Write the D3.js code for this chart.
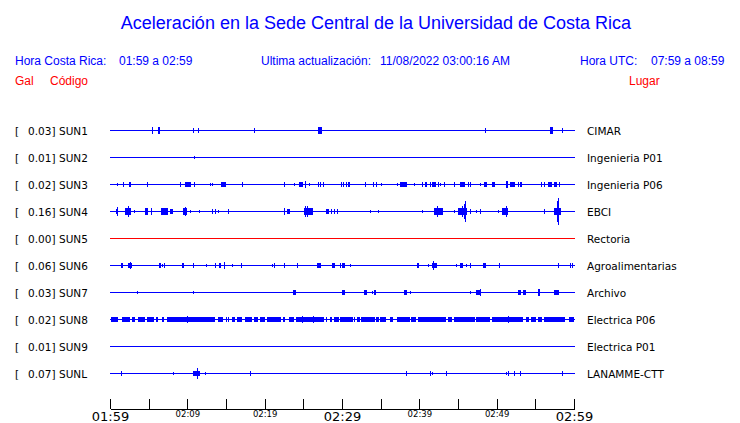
<!DOCTYPE html>
<html>
<head>
<meta charset="utf-8">
<script src="https://cdn.jsdelivr.net/npm/d3@7"></script>
<style>
  html, body { margin: 0; padding: 0; background: #fff; }
  svg { display: block; }
</style>
</head>
<body>
<svg id="chart" width="740" height="423"></svg>
<script>
// ---------------- DATA ----------------
const title = "Aceleración en la Sede Central de la Universidad de Costa Rica";
const horaCR = "01:59 a 02:59";
const actualizacion = "11/08/2022 03:00:16 AM";
const horaUTC = "07:59 a 08:59";

const codes    = ["SUN1","SUN2","SUN3","SUN4","SUN5","SUN6","SUN7","SUN8","SUN9","SUNL"];
const gals     = [0.03, 0.01, 0.02, 0.16, 0.00, 0.06, 0.03, 0.02, 0.01, 0.07];
const places   = ["CIMAR","Ingenieria P01","Ingenieria P06","EBCI","Rectoria",
                  "Agroalimentarias","Archivo","Electrica P06","Electrica P01","LANAMME-CTT"];
const traceColors = ["#0000ff","#0000ff","#0000ff","#0000ff","#ff0000",
                     "#0000ff","#0000ff","#0000ff","#0000ff","#0000ff"];

// time axis: minutes after 01:59
const tickMinutes = [0,5,10,15,20,25,30,35,40,45,50,55,60];
const labelMinutes = [0,10,20,30,40,50,60];
const tickLabels = ["01:59","02:09","02:19","02:29","02:39","02:49","02:59"];
const bigLabels = ["01:59","02:29","02:59"];

// events per trace: [minute, duration (min), amplitude]
const evCIMAR = [[5.43,0,2.5],[6.17,0.3,2.5],[10.77,0,1.5],[11.42,0,1.5],[18.66,0,1.5],
  [26.94,0.5,2.5],[48.53,0,1.5],[56.9,0.4,2.5],[58.49,0,1.5]];
const evIngP01 = [[10.9,0,1]];
const evIngP06 = [[0.87,0,1],[1.72,0,1.5],[2.42,0.26,2],[4.82,0,1.5],[9.09,0,1.5],[9.70,0.78,2],
  [10.86,0,1.5],[12.97,0,1],[13.23,0,1],[14.35,0.69,2],[17.11,0,1.5],[22.46,0,1.5],[23.75,0,0.7],
  [24.40,0.56,2],[25.26,0,2.5],[25.77,0,1],[26.86,0,1.5],[27.16,0,1.5],[27.54,0,1.5],
  [29.91,0,1.5],[30.19,0,1.5],[30.48,0,1.5],[30.82,0.26,2],[32.94,0,1.5],[34.05,0,1.5],
  [34.44,0,1.5],[35.08,0,1],[37.15,0,1],[37.54,0.87,2],[39.27,0,1],[40.31,0,1.5],
  [40.73,0.26,2],[41.34,0,1.5],[41.68,0.52,2],[42.38,0,1.5],[42.71,0,1],[43.15,0,1.5],
  [44.52,0,1.5],[45.30,0.65,2],[46.33,0,1.5],[46.59,0,1.5],[47.89,0,1],[48.32,0.43,2],
  [49.40,0.39,2],[51.21,0.3,3],[51.76,0.61,2],[52.72,0,1.5],[53.06,0.26,1.5],[55.73,0,1.5],
  [56.08,0,1.5],[56.68,0.57,2],[57.46,0.35,2],[58.02,0,1.5]];
const evEBCI = [[0.78,0.3,2],[0.91,0,3.7],[1.94,0.78,2.5],[2.29,0,5],[3.14,0,1],[4.53,0.35,3],
  [5.26,0,3],[6.60,0.86,2.5],[7.80,0.35,2],[9.44,0.52,2.5],[9.70,0,4],[10.34,0,1],[11.55,0,1],
  [13.23,0,1.5],[13.58,0,1.5],[14.0,0,1],[15.30,0,1.5],[22.46,0,2.5],[22.89,0.35,1.5],
  [25.05,1.2,3],[25.22,0,5],[25.41,0,4.5],[27.89,0.34,2],[28.62,0,1.5],[28.93,0,1.5],
  [29.36,0,1.5],[33.66,0,0.7],[34.70,0,1],[40.35,0,1],[41.94,1.12,2.5],[42.29,0,4.5],
  [44.52,0,1],[44.96,1.1,2.5],[45.52,0,5],[45.78,0,7],[45.91,0,10],[46.59,0,1.5],[47.33,0,1],
  [47.89,0,1.5],[50.14,0,1],[50.73,0.78,2.5],[51.21,0,5],[56.16,0,1.5],[57.38,0.85,2.5],
  [57.80,0,10],[57.89,0,12.5]];
const evRectoria = [];
const evAgro = [[1.42,0.26,2],[2.29,0.52,2],[2.59,0,3],[6.34,0.26,2],[6.76,0,1],[7.02,0,1.5],
  [9.35,0.26,2],[10.77,0,1.5],[12.45,0,0.7],[13.62,0,1.5],[14.13,0.22,2],[14.78,0,3],
  [15.82,0,0.7],[16.94,0,1.5],[20.91,0,1],[21.25,0.18,2],[22.46,0,1.5],[24.22,0,1.5],
  [26.77,0.52,2],[28.71,0.35,2],[29.78,0,1.5],[30.0,0.35,2],[31.0,0,1],[39.70,0.26,2],
  [41.16,0,1],[41.60,0.6,2],[41.81,0,4],[44.78,0,0.7],[45.30,0.44,2],[46.0,0,1],[46.59,0,1.5],
  [48.23,0.43,2],[50.26,0,1.5],[57.97,0.18,2],[59.45,0,1.5],[59.70,0,1.5]];
const evArchivo = [[3.53,0,0.7],[10.77,0,0.7],[23.66,0.35,2],[30.0,0.35,2],[32.85,0.35,2],
  [33.88,0,0.7],[34.14,0.22,2],[38.02,0.39,2],[38.79,0,0.7],[46.59,0,1],[47.36,0.7,2],
  [47.89,0,3],[52.76,0.35,2],[53.41,0.35,2],[55.39,0.26,2.5],[57.46,0.7,2]];
const evElecP06 = [[0.13,0.94,1.5],[1.51,1.07,1.5],[2.88,0.35,1.5],[3.58,0.94,1.5],[4.78,0.94,1.5],
  [5.99,0.26,1.5],[6.76,0.26,1.5],[7.37,6.21,1.5],[9.96,0,3],[14.0,0.65,1.5],[14.96,0.1,1.5],[15.22,0.17,1.5],
  [15.74,0.43,1.5],[16.42,0.6,1.5],[17.46,0.86,1.5],[18.66,0.52,1.5],[19.44,0.6,1.5],[20.30,1.81,1.5],
  [22.37,0.26,1.5],[23.15,0.69,1.5],[24.09,3.67,1.5],[24.87,0,3],[26.25,0,3],[27.97,0.1,1.5],
  [28.41,0.2,1.5],[28.93,0.6,1.5],[29.70,1.63,1.5],[31.51,0.17,1.5],[31.94,0.35,1.5],[32.50,1.77,1.5],
  [34.44,0.35,1.5],[34.95,0.78,1.5],[36.17,0.34,1.5],[37.11,1.64,1.5],[38.92,0.69,1.5],[39.87,3.58,1.5],
  [43.67,0.52,1.5],[44.45,2.66,1.5],[47.37,1.81,1.5],[49.36,4.01,1.5],[51.43,0,3],[53.80,0.43,1.5],
  [54.44,0.65,1.5],[55.31,0.52,1.5],[56.08,2.66,1.5],[59.36,0.64,1.5]];
const evElecP01 = [];
const evLanamme = [[1.46,0,1.5],[8.11,0,0.7],[10.77,0.87,2],[11.29,0,5.3],[12.32,0,1],
  [18.14,0,1.5],[38.32,0,1.5],[41.34,0,1.5],[41.68,0,1],[43.49,0,1.5],[51.17,0,1],
  [51.43,0,1.5],[52.28,0,1.5],[53.06,0.18,2],[58.49,0,1.5]];

const traceEvents = [evCIMAR, evIngP01, evIngP06, evEBCI, evRectoria,
                     evAgro, evArchivo, evElecP06, evElecP01, evLanamme];

// ---------------- DRAWING ----------------
const svg = d3.select("#chart");
const BLUE = "#0000ff", RED = "#ff0000";

const x = d3.scaleLinear().domain([0, 60]).range([110, 574]);
const row = d3.scaleBand().domain(codes).range([116.5, 386.5]);
const amp = d3.scaleLinear().domain([0, 12.5]).range([0, 12.5]);
const cy = c => Math.round(row(c) + row.bandwidth() / 2);

// title
svg.append("text").attr("x", 376).attr("y", 29).attr("text-anchor", "middle")
  .attr("font-family", "Liberation Sans, Arial, sans-serif").attr("font-size", 18)
  .attr("fill", BLUE).text(title);

const hdr = svg.append("g").attr("font-family", "Liberation Sans, Arial, sans-serif")
  .attr("font-size", 12);
const hdrBlue = [["Hora Costa Rica:",15],[horaCR,119],["Ultima actualización:",261],
  [actualizacion,380],["Hora UTC:",580],[horaUTC,651]];
hdrBlue.forEach(([t, px]) => hdr.append("text").attr("x", px).attr("y", 65).attr("fill", BLUE).text(t));
[["Gal",15],["Código",50],["Lugar",629]].forEach(([t, px]) =>
  hdr.append("text").attr("x", px).attr("y", 85).attr("fill", RED).text(t));

// row labels
const lab = svg.append("g").attr("font-family", "DejaVu Sans, sans-serif").attr("font-size", 10.5).attr("fill", "#000");
codes.forEach((c, i) => {
  const y = cy(c) + 4.5;
  lab.append("text").attr("x", 15).attr("y", y).text("[");
  lab.append("text").attr("x", 55.5).attr("y", y).attr("text-anchor", "end").text(gals[i].toFixed(2) + "]");
  lab.append("text").attr("x", 59).attr("y", y).text(c);
  lab.append("text").attr("x", 587).attr("y", y).text(places[i]);
});

// traces
codes.forEach((c, i) => {
  const g = svg.append("g").attr("shape-rendering", "crispEdges");
  const y0 = cy(c);
  g.append("line").attr("x1", x(0)).attr("x2", x(60) + 1).attr("y1", y0 + 0.5).attr("y2", y0 + 0.5)
    .attr("stroke", traceColors[i]).attr("stroke-width", 1.6);
  g.selectAll("rect").data(traceEvents[i]).join("rect")
    .attr("x", d => Math.round(x(d[0])))
    .attr("width", d => Math.max(1, Math.round(x(d[0] + d[1]) - x(d[0]))))
    .attr("y", d => y0 - Math.round(amp(d[2])))
    .attr("height", d => 2 * Math.round(amp(d[2])) + 1)
    .attr("fill", traceColors[i]);
});

// time axis
const axis = d3.axisBottom(x).tickValues(tickMinutes).tickSizeInner(-10).tickSizeOuter(0)
  .tickPadding(0)
  .tickFormat(m => { const k = labelMinutes.indexOf(m); return k >= 0 ? tickLabels[k] : ""; });
const ax = svg.append("g").attr("transform", "translate(0,409)").call(axis);
ax.select(".domain").attr("stroke", "#000").attr("stroke-width", 1).attr("shape-rendering", "crispEdges");
ax.selectAll(".tick line").attr("stroke", "#000").attr("shape-rendering", "crispEdges");
ax.selectAll(".tick text").attr("fill", "#000").attr("font-family", "DejaVu Sans, sans-serif")
  .attr("dy", null)
  .each(function(m) {
    const t = d3.select(this);
    const lbl = t.text();
    if (bigLabels.includes(lbl)) t.attr("font-size", 13).attr("y", 12);
    else t.attr("font-size", 8.5).attr("y", 8);
  });
</script>
</body>
</html>
